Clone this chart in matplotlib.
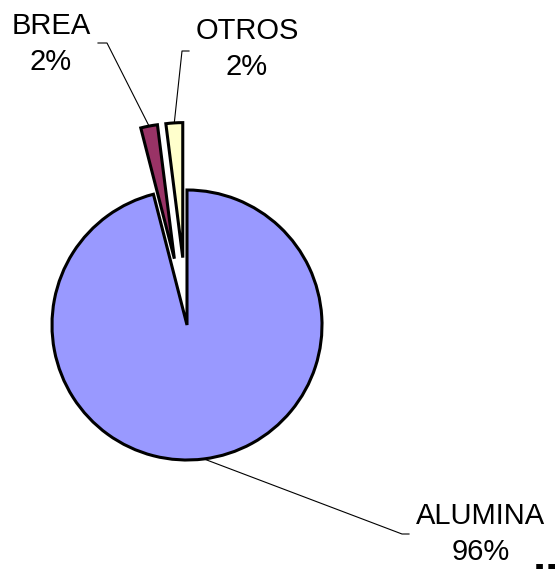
import matplotlib
matplotlib.use("Agg")
import matplotlib.pyplot as plt
import numpy as np

# ---- data ----
categories = ["ALUMINA", "BREA", "OTROS"]
values = [96, 2, 2]
colors = ["#9999FF", "#993366", "#FFFFCC"]
explode = [0.0, 0.5, 0.5]

W, H = 556, 569
S = 135.0              # pixels per data unit (pie radius)
CX, CY = 187.0, 325.0  # pie centre in pixels


def p2d(px, py):
    return ((px - CX) / S, (CY - py) / S)


fig = plt.figure(figsize=(W / 100, H / 100), dpi=100)
ax = fig.add_axes([0, 0, 1, 1])
wedges, _ = ax.pie(values, colors=colors, explode=explode, startangle=90,
                   counterclock=False, radius=1.0, center=(0, 0),
                   wedgeprops=dict(edgecolor="black", linewidth=2.2))
x0, y0 = p2d(0, H)
x1, y1 = p2d(W, 0)
ax.set_xlim(x0, x1)
ax.set_ylim(y0, y1)
ax.set_aspect("auto")
ax.axis("off")

total = sum(values)
# label layout (pixel positions): text centre, elbow start, elbow end
label_layout = {
    "ALUMINA": ((481, 534), (409, 534), (402, 534)),
    "BREA": ((51, 44), (98, 43), (107, 43)),
    "OTROS": ((247, 49), (189, 51), (182, 51)),
}

font = dict(family=["Liberation Sans", "DejaVu Sans"], fontsize=21)
for w, cat, v in zip(wedges, categories, values):
    tpos, e0, e1 = label_layout[cat]
    tx, ty = p2d(*tpos)
    ax.text(tx, ty, f"{cat}\n{v / total * 100:.0f}%", ha="center", va="center",
            multialignment="center", linespacing=1.4, color="black", **font)
    mid = np.deg2rad((w.theta1 + w.theta2) / 2)
    ex = w.center[0] + w.r * np.cos(mid)
    ey = w.center[1] + w.r * np.sin(mid)
    a = p2d(*e0)
    b = p2d(*e1)
    ax.plot([a[0], b[0], ex], [a[1], b[1], ey], color="black", lw=0.8,
            zorder=0.5)

# clipped marks at bottom-right corner
bx, by = p2d(546, 571)
ax.text(bx, by, "..", ha="center", va="baseline", fontweight="bold",
        fontsize=34, family="Liberation Sans", color="black")

fig.savefig("out.png", dpi=100)
